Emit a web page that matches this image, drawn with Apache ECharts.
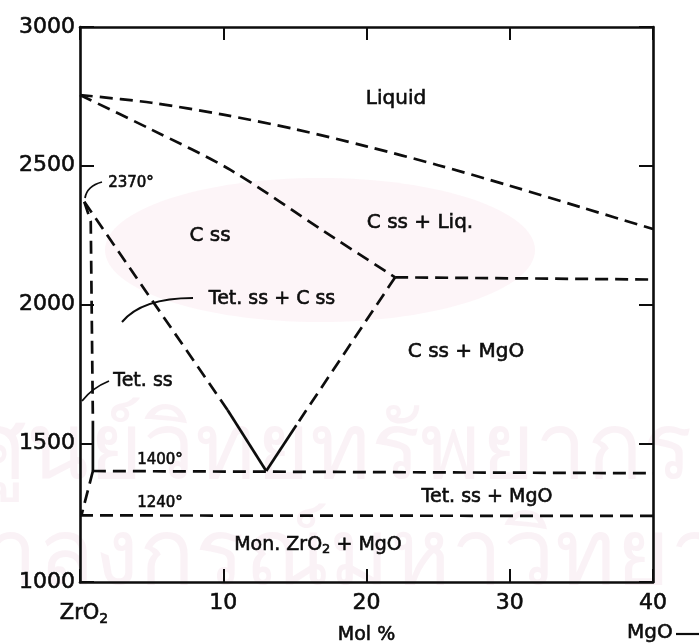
<!DOCTYPE html>
<html><head><meta charset="utf-8">
<script src="https://cdn.jsdelivr.net/npm/echarts/dist/echarts.min.js"></script>
<style>html,body{margin:0;padding:0;background:#fff}#c{width:699px;height:644px}</style>
</head><body><div id="c"></div>
<script>
// ---- data (mol % MgO, temperature °C) ----
const xTicks = [0, 10, 20, 30, 40];
const yTicks = [1000, 1500, 2000, 2500, 3000];
const liquidus      = [[0,2755],[5,2727],[10,2684],[15,2632],[20,2570],[25,2502],[30,2428],[35,2350],[40,2272]];
const cssSolidus    = [[0,2755],[5,2630],[10.5,2485],[17.2,2258],[22,2098]];
const eutectic      = [[22,2098],[40,2090]];
const vRightDashed  = [[22,2098],[15.1,1565]];
const vRightSolid   = [[15.1,1565],[13,1400]];
const vLeftDashed   = [[0.3,2370],[10.3,1620]];
const vLeftSolid    = [[10.3,1620],[13,1400]];
const tetDashed     = [[0.3,2370],[0.75,2300],[0.9,1580]];
const tetSolid      = [[0.9,1580],[0.9,1400]];
const tetLower      = [[0.9,1400],[0.1,1240]];
const line1400      = [[0.9,1400],[40,1392]];
const line1240      = [[0,1240],[40,1238]];

const FONT = 'DejaVu Sans';
const INK = '#0d0d0d';
const DASH = [13, 7];
const BOLDEN = 0.6;

function ln(data, dashed, smooth) {
  return {
    type: 'line', data: data, showSymbol: false, symbol: 'none',
    smooth: smooth || false, silent: true, clip: false, z: 3,
    lineStyle: { color: INK, width: 2.7, type: dashed ? DASH : 'solid' }
  };
}

const chart = echarts.init(document.getElementById('c'), null, { renderer: 'canvas' });

const txt = (x, y, s, size) => ({
  type: 'text', x: x, y: y, silent: true, z: 10,
  style: { text: s, font: (size || 20) + 'px "' + FONT + '"', fill: INK, align: 'center', verticalAlign: 'middle',
    stroke: INK, lineWidth: BOLDEN }
});
const rt = (size, pad) => ({ fontSize: size, fontFamily: FONT, fill: INK, stroke: INK, lineWidth: BOLDEN,
  padding: pad || [0, 0, 0, 0] });

const axisCommon = {
  type: 'value', min: 0, max: 40, interval: 10,
  axisLine: { show: true, onZero: false, lineStyle: { color: INK, width: 2.6 } },
  axisTick: { show: true, inside: true, length: 13, lineStyle: { color: INK, width: 2 } },
  splitLine: { show: false }
};
const yCommon = {
  type: 'value', min: 1000, max: 3000, interval: 500,
  axisLine: { show: true, onZero: false, lineStyle: { color: INK, width: 2.6 } },
  axisTick: { show: true, inside: true, length: 14, lineStyle: { color: INK, width: 2 } },
  splitLine: { show: false }
};

chart.setOption({
  animation: false,
  backgroundColor: '#fff',
  grid: { left: 80, right: 46, top: 27, bottom: 62, containLabel: false, outerBoundsMode: 'none' },
  xAxis: [
    Object.assign({}, axisCommon, {
      position: 'bottom',
      axisLabel: { fontFamily: FONT, fontSize: 22, color: INK, margin: 10,
        textBorderColor: INK, textBorderWidth: BOLDEN,
        formatter: v => (v === 0 ? '' : String(v)) },
      name: 'Mol %', nameLocation: 'middle', nameGap: 44,
      nameTextStyle: { fontFamily: FONT, fontSize: 19, color: INK, textBorderColor: INK, textBorderWidth: BOLDEN }
    }),
    Object.assign({}, axisCommon, { position: 'top', axisLabel: { show: false } })
  ],
  yAxis: [
    Object.assign({}, yCommon, {
      position: 'left',
      axisLabel: { fontFamily: FONT, fontSize: 22, color: INK, margin: 5,
        textBorderColor: INK, textBorderWidth: BOLDEN,
        formatter: v => String(v) }
    }),
    Object.assign({}, yCommon, { position: 'right', axisLabel: { show: false } })
  ],
  series: [
    ln(liquidus, true, 0.3),
    ln(cssSolidus, true, 0.3),
    ln(eutectic, true),
    ln(vRightDashed, true),
    ln(vRightSolid, false),
    ln(vLeftDashed, true),
    ln(vLeftSolid, false),
    ln(tetDashed, true),
    ln(tetSolid, false),
    ln(tetLower, true),
    ln(line1400, true),
    ln(line1240, true)
  ],
  graphic: [
    // faint background watermark
    { type: 'ellipse', silent: true, z: -10, shape: { cx: 320, cy: 250, rx: 215, ry: 72 },
      style: { fill: 'rgba(235,170,200,0.12)' } },
    { type: 'text', x: 330, y: 452, silent: true, z: -9,
      style: { text: 'ศูนย์วิทยทรัพยากร', font: '92px "Noto Sans", sans-serif', fill: 'rgba(200,110,160,0.09)',
        align: 'center', verticalAlign: 'middle' } },
    { type: 'text', x: 350, y: 558, silent: true, z: -9,
      style: { text: 'จุฬาลงกรณ์มหาวิทยาลัย', font: '92px "Noto Sans", sans-serif', fill: 'rgba(200,110,160,0.09)',
        align: 'center', verticalAlign: 'middle' } },
    // phase labels
    txt(396, 99, 'Liquid', 20),
    txt(420, 223, 'C ss + Liq.', 20),
    txt(210, 236, 'C ss', 20),
    txt(272, 299, 'Tet. ss + C ss', 19),
    txt(466, 352, 'C ss + MgO', 20),
    txt(143, 381, 'Tet. ss', 19),
    txt(487, 497, 'Tet. ss + MgO', 19),
    { type: 'text', x: 318, y: 545, silent: true, z: 10,
      style: { text: '{a|Mon. ZrO}{b|2}{a| + MgO}', align: 'center', verticalAlign: 'middle',
        rich: { a: rt(19), b: rt(13, [10, 0, 0, 0]) } } },
    txt(131, 183, '2370°', 15),
    txt(160, 460, '1400°', 15),
    txt(160, 503, '1240°', 15),
    // axis end labels
    { type: 'text', x: 84, y: 614, silent: true,
      style: { text: '{a|ZrO}{b|2}', align: 'center', verticalAlign: 'middle',
        rich: { a: rt(21), b: rt(14, [10, 0, 0, 0]) } } },
    { type: 'text', x: 627, y: 633, silent: true,
      style: { text: 'MgO', font: '20px "' + FONT + '"', fill: INK, align: 'left', verticalAlign: 'middle',
        stroke: INK, lineWidth: BOLDEN } },
    { type: 'line', silent: true, shape: { x1: 676, y1: 634, x2: 699, y2: 634 },
      style: { stroke: INK, lineWidth: 2.2 } },
    // leader lines
    { type: 'bezierCurve', silent: true,
      shape: { x1: 85, y1: 198, x2: 102, y2: 182, cpx1: 87, cpy1: 186 },
      style: { stroke: INK, lineWidth: 1.8, fill: null } },
    { type: 'bezierCurve', silent: true,
      shape: { x1: 122, y1: 322, x2: 193, y2: 298, cpx1: 142, cpy1: 298 },
      style: { stroke: INK, lineWidth: 2, fill: null } },
    { type: 'bezierCurve', silent: true,
      shape: { x1: 82, y1: 401, x2: 109, y2: 381, cpx1: 92, cpy1: 388 },
      style: { stroke: INK, lineWidth: 1.8, fill: null } }
  ]
});
</script>
</body></html>
